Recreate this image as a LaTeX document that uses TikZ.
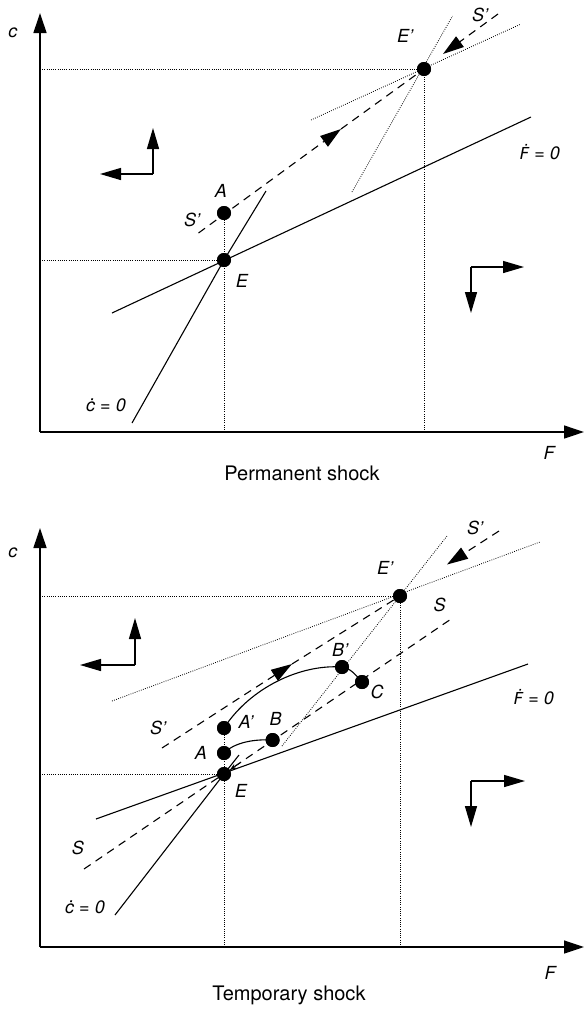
\documentclass[tikz,border=0pt]{standalone}
\usepackage{fontspec}
\setmainfont{TeX Gyre Heros}
\newfontfamily\djv{DejaVu Sans}
\usetikzlibrary{arrows.meta}
\newcommand\Fdot{{\djv\itshape\fontsize{16.5}{20}\selectfont Ḟ}}
\begin{document}
\begin{tikzpicture}[x=1pt,y=-1pt,
  axis/.style={line width=1.3pt,-{Triangle[length=20pt,width=13pt]}},
  curve/.style={line width=1.1pt},
  guide/.style={line width=0.8pt,dash pattern=on 0.8pt off 1.4pt},
  saddle/.style={line width=1.1pt,dash pattern=on 8pt off 6pt},
  dirarr/.style={line width=1.4pt,-{Triangle[length=21pt,width=12pt]}},
  tipend/.style={-{Triangle[length=21pt,width=13pt]}},
  dot/.style={circle,fill=black,inner sep=0pt,minimum size=14pt},
  lab/.style={font=\fontsize{18}{20}\selectfont\itshape,inner sep=0pt},
  capt/.style={font=\fontsize{20}{22}\selectfont,inner sep=0pt}]
\useasboundingbox (0,0) rectangle (584,1010);

% ================= Upper panel: permanent shock =================
\coordinate (O1) at (40,432);
\coordinate (Y1) at (40,13);
\coordinate (X1) at (584,432);
\node[dot] (E1) at (224,260) {};
\node[dot] (A1) at (224,213) {};
\node[dot] (Ep1) at (424,69) {};
\coordinate (yE1) at (40,260);
\coordinate (yEp1) at (40,69);
\coordinate (xE1) at (224,432);
\coordinate (xEp1) at (424,432);
\coordinate (cd1a) at (132,423);
\coordinate (cd1b) at (266,191);
\coordinate (fd1a) at (112,313);
\coordinate (fd1b) at (531,117);
\coordinate (cs1a) at (352,192);
\coordinate (cs1b) at (452.5,16);
\coordinate (fs1a) at (311,120);
\coordinate (fs1b) at (521,24);
\coordinate (sp1a) at (198.5,233);
\coordinate (sp1m) at (341,129);
\coordinate (sp1n) at (443,54);
\coordinate (sp1b) at (498,14);

% guides
\draw[guide] (yEp1) -- (Ep1.center);
\draw[guide] (yE1) -- (E1.center);
\draw[guide] (xE1) -- (A1.center);
\draw[guide] (xEp1) -- (Ep1.center);
\draw[guide] (cs1a) -- (cs1b);
\draw[guide] (fs1a) -- (fs1b);
% loci
\draw[curve] (cd1a) -- (E1.center) -- (cd1b);
\draw[curve] (fd1a) -- (fd1b);
% saddle path
\draw[saddle,tipend] (sp1a) -- (sp1m);
\draw[saddle] (sp1m) -- (Ep1.center);
\draw[saddle,tipend] (sp1b) -- (sp1n);
% axes
\draw[axis] (O1) -- (Y1);
\draw[axis] (O1) -- (X1);
% direction arrows
\coordinate (d1) at (153,174);
\coordinate (d1u) at (153,128);
\coordinate (d1l) at (100,174);
\draw[dirarr] (d1) -- (d1u);
\draw[dirarr] (d1) -- (d1l);
\coordinate (d2) at (471,267);
\coordinate (d2r) at (524,267);
\coordinate (d2d) at (471,313);
\draw[dirarr] (d2) -- (d2r);
\draw[dirarr] (d2) -- (d2d);
% redraw dots on top
\node[dot] at (E1) {};
\node[dot] at (A1) {};
\node[dot] at (Ep1) {};
% labels
\node[lab] (lc1) at (13,33) {c};
\node[lab] (lF1) at (549,453) {F};
\node[capt] (cap1) at (302,473) {Permanent shock};
\node[lab] (lA1) at (221,191) {A};
\node[lab] (lS1) at (192,220) {S'};
\node[lab] (lE1) at (242,281) {E};
\node[lab] (lEp1) at (405,36) {E'};
\node[lab] (lSp1) at (480,15) {S'};
\node[lab] (lFd1) at (540,152) {\Fdot{} = 0};
\node[lab] (lcd1) at (106,405) {ċ = 0};

% ================= Lower panel: temporary shock =================
\coordinate (O2) at (40,947);
\coordinate (Y2) at (40,528);
\coordinate (X2) at (584,947);
\node[dot] (E2) at (224,774) {};
\node[dot] (Ep2) at (400,596) {};
\node[dot] (A2) at (224,753) {};
\node[dot] (Ap2) at (224,728) {};
\node[dot] (B2) at (272.6,740) {};
\node[dot] (Bp2) at (342,667) {};
\node[dot] (C2) at (362,682) {};
\coordinate (yE2) at (40,774);
\coordinate (yEp2) at (40,596);
\coordinate (xE2) at (224,947);
\coordinate (xEp2) at (400,947);
\coordinate (cd2a) at (115,915);
\coordinate (cd2b) at (239,755);
\coordinate (fd2a) at (96,819);
\coordinate (fd2b) at (528,664);
\coordinate (cs2a) at (282,746);
\coordinate (cs2b) at (447,536);
\coordinate (fs2a) at (112,701);
\coordinate (fs2b) at (540,542);
\coordinate (s2a) at (84,869);
\coordinate (s2b) at (454,617);
\coordinate (sp2a) at (162,748);
\coordinate (sp2m) at (292,664);
\coordinate (sp2n) at (447,564.5);
\coordinate (sp2b) at (499,531);
\coordinate (back1) at (240.5,762.7);
\coordinate (back2) at (229.8,770);

% guides
\draw[guide] (yEp2) -- (Ep2.center);
\draw[guide] (yE2) -- (E2.center);
\draw[guide] (xE2) -- (Ap2.center);
\draw[guide] (xEp2) -- (Ep2.center);
\draw[guide] (cs2a) -- (cs2b);
\draw[guide] (fs2a) -- (fs2b);
% loci
\draw[curve] (cd2a) -- (E2.center) -- (cd2b);
\draw[curve] (fd2a) -- (fd2b);
% saddle paths
\draw[saddle] (s2a) -- (s2b);
\draw[saddle,tipend] (sp2a) -- (sp2m);
\draw[saddle] (sp2m) -- (Ep2.center);
\draw[saddle,tipend] (sp2b) -- (sp2n);
\draw[line width=0.6pt,-{Stealth[length=7pt,width=5pt]}] (back1) -- (back2);
% adjustment paths
\draw[curve] (A2.center) .. controls (235,742) and (255,739) .. (B2.center);
\draw[curve] (Ap2.center) .. controls (250,688) and (300,664) .. (Bp2.center);
\draw[curve] (Bp2.center) .. controls (350,668) and (355,674) .. (C2.center);
% axes
\draw[axis] (O2) -- (Y2);
\draw[axis] (O2) -- (X2);
% direction arrows
\coordinate (d3) at (135,665);
\coordinate (d3u) at (135,618);
\coordinate (d3l) at (80,665);
\draw[dirarr] (d3) -- (d3u);
\draw[dirarr] (d3) -- (d3l);
\coordinate (d4) at (471,781);
\coordinate (d4r) at (525,781);
\coordinate (d4d) at (471,827);
\draw[dirarr] (d4) -- (d4r);
\draw[dirarr] (d4) -- (d4d);
% dots on top
\foreach \p in {E2,Ep2,A2,Ap2,B2,Bp2,C2} \node[dot] at (\p) {};
% labels
\node[lab] (lc2) at (13,553) {c};
\node[lab] (lF2) at (550,973) {F};
\node[capt] (cap2) at (289,995) {Temporary shock};
\node[lab] (lEp2) at (385,568) {E'};
\node[lab] (lSp2) at (475,528) {S'};
\node[lab] (lS2u) at (439.5,605) {S};
\node[lab] (lBp2) at (340,650) {B'};
\node[lab] (lC2) at (377,692) {C};
\node[lab] (lFd2) at (534,697) {\Fdot{} = 0};
\node[lab] (lAp2) at (246,722) {A'};
\node[lab] (lB2) at (275.6,719) {B};
\node[lab] (lS2l) at (158,728) {S'};
\node[lab] (lA2) at (201,753) {A};
\node[lab] (lE2) at (241,791) {E};
\node[lab] (lS2d) at (78,848) {S};
\node[lab] (lcd2) at (85,907) {ċ = 0};
\end{tikzpicture}
\end{document}
